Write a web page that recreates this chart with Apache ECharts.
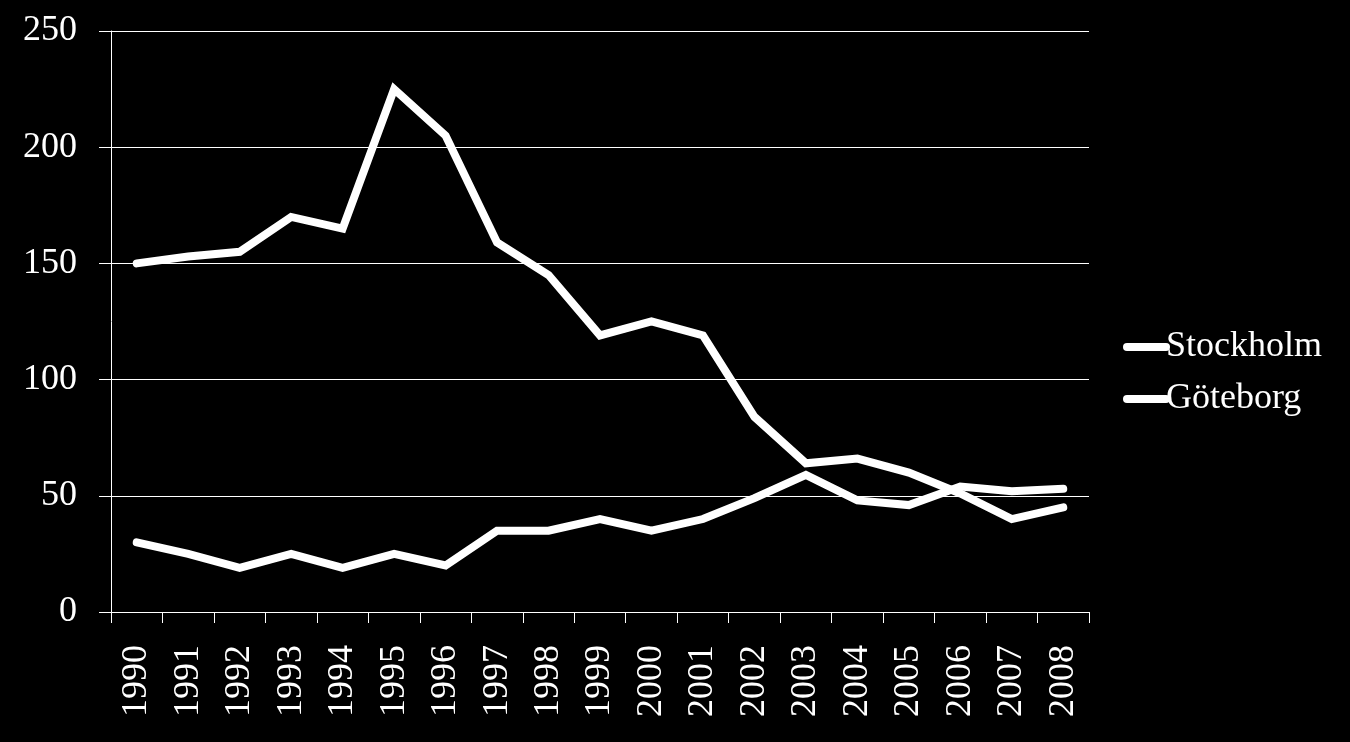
<!DOCTYPE html>
<html>
<head>
<meta charset="utf-8">
<script src="https://cdn.jsdelivr.net/npm/echarts@6/dist/echarts.min.js"></script>
<style>
html,body{margin:0;padding:0;background:#000;}
#c{width:1350px;height:742px;}
</style>
</head>
<body>
<div id="c"></div>
<script>
const years = ['1990','1991','1992','1993','1994','1995','1996','1997','1998','1999','2000','2001','2002','2003','2004','2005','2006','2007','2008'];
const stockholm = [150,153,155,170,165,225,205,159,145,119,125,119,84,64,66,60,51,40,45];
const goteborg = [30,25,19,25,19,25,20,35,35,40,35,40,49,59,48,46,54,52,53];
const yTicks = [0,50,100,150,200,250];

const font = '"Liberation Serif", "Times New Roman", serif';
const legendIcon = 'path://M0,4 A4,4 0 0 1 4,0 L43,0 A4,4 0 0 1 43,8 L4,8 A4,4 0 0 1 0,4 Z';
const chart = echarts.init(document.getElementById('c'));
chart.setOption({
  backgroundColor: '#000',
  animation: false,
  grid: {left: 111, right: 261, top: 31, bottom: 130, containLabel: false},
  legend: {
    orient: 'vertical',
    left: 1118,
    top: 324,
    icon: legendIcon,
    itemWidth: 47,
    itemHeight: 8,
    itemGap: 16,
    data: ['Stockholm','Göteborg'],
    itemStyle: {color: '#fff', borderWidth: 0},
    textStyle: {color: '#fff', fontFamily: font, fontSize: 36, padding: [0,0,0,-9]}
  },
  xAxis: {
    type: 'category',
    data: years,
    boundaryGap: true,
    axisLine: {lineStyle: {color: '#fff', width: 1}},
    axisTick: {show: true, length: 11, lineStyle: {color: '#fff'}},
    axisLabel: {color: '#fff', fontFamily: font, fontSize: 36, rotate: 90, margin: 33, interval: 0}
  },
  yAxis: {
    type: 'value',
    min: yTicks[0],
    max: yTicks[yTicks.length-1],
    interval: 50,
    axisLine: {show: true, lineStyle: {color: '#fff', width: 1}},
    axisTick: {show: true, length: 12, lineStyle: {color: '#fff'}},
    splitLine: {lineStyle: {color: '#fff', width: 1}},
    axisLabel: {color: '#fff', fontFamily: font, fontSize: 36, margin: 34}
  },
  series: [
    {name: 'Stockholm', type: 'line', data: stockholm, symbol: 'none',
     lineStyle: {color: '#fff', width: 8, cap: 'round', join: 'miter'}, itemStyle: {color: '#fff'}},
    {name: 'Göteborg', type: 'line', data: goteborg, symbol: 'none',
     lineStyle: {color: '#fff', width: 8, cap: 'round', join: 'miter'}, itemStyle: {color: '#fff'}}
  ]
});
</script>
</body>
</html>
